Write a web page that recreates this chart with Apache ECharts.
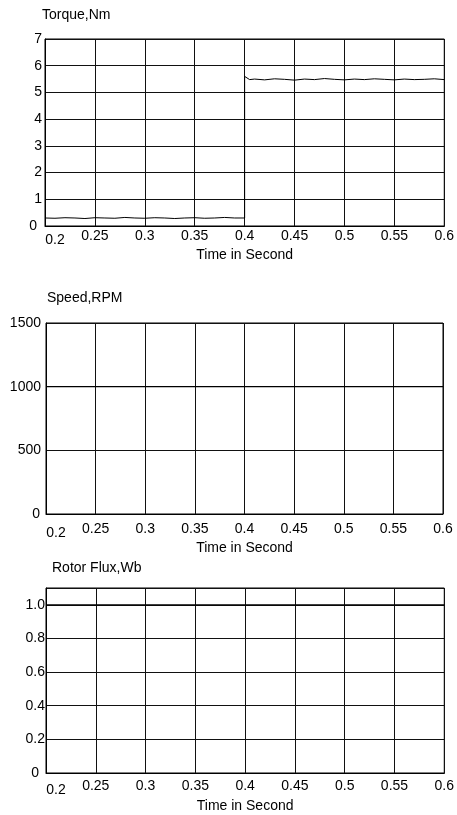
<!DOCTYPE html>
<html>
<head>
<meta charset="utf-8">
<script src="https://cdn.jsdelivr.net/npm/echarts@6/dist/echarts.min.js"></script>
<style>
html,body{margin:0;padding:0;background:#fff;}
#chart{width:457px;height:815px;}
</style>
</head>
<body>
<div id="chart"></div>
<script>
// ---- data ----
var panelTitles = ['Torque,Nm', 'Speed,RPM', 'Rotor Flux,Wb'];
var xAxisTitle = 'Time in Second';
var timeTicks = [0.2, 0.25, 0.3, 0.35, 0.4, 0.45, 0.5, 0.55, 0.6];

var torqueTime = [0.20,0.21,0.22,0.23,0.24,0.25,0.26,0.27,0.28,0.29,0.30,0.31,0.32,0.33,0.34,0.35,0.36,0.37,0.38,0.39,0.40,
                  0.40,0.401,0.405,0.41,0.42,0.43,0.44,0.45,0.46,0.47,0.48,0.49,0.50,0.51,0.52,0.53,0.54,0.55,0.56,0.57,0.58,0.59,0.60];
var torqueValue = [0.30,0.29,0.31,0.30,0.28,0.31,0.30,0.29,0.32,0.30,0.29,0.31,0.30,0.28,0.30,0.31,0.29,0.30,0.32,0.30,0.30,
                   5.60,5.55,5.48,5.50,5.47,5.51,5.49,5.46,5.50,5.48,5.52,5.49,5.47,5.50,5.48,5.51,5.49,5.47,5.50,5.48,5.49,5.51,5.48];

var speedTime = [0.2, 0.3, 0.4, 0.5, 0.6];
var speedValue = [1000, 1000, 1000, 1000, 1000];

var fluxTime = [0.2, 0.3, 0.4, 0.5, 0.6];
var fluxValue = [1.0, 1.0, 1.0, 1.0, 1.0];

var torqueTicks = [0, 1, 2, 3, 4, 5, 6, 7];
var speedTicks = [0, 500, 1000, 1500];
var fluxTicks = [0, 0.2, 0.4, 0.6, 0.8, 1.0];

// ---- chart ----
var FONT = '"Liberation Sans", Arial, sans-serif';
var FS = 14;
var chart = echarts.init(document.getElementById('chart'), null, {renderer: 'canvas'});

function xAx(gridIndex, margin, nameGap) {
  return {
    type: 'value', gridIndex: gridIndex, min: timeTicks[0], max: timeTicks[timeTicks.length - 1], interval: 0.05,
    name: xAxisTitle, nameLocation: 'middle', nameGap: nameGap,
    nameTextStyle: {color: '#000', fontSize: FS, fontFamily: FONT},
    axisLine: {show: true, onZero: false, lineStyle: {color: '#000', width: 1}},
    axisTick: {show: false},
    splitLine: {show: true, lineStyle: {color: '#111', width: 1}},
    axisLabel: {
      color: '#000', fontSize: FS, fontFamily: FONT, margin: margin,
      showMinLabel: true, showMaxLabel: true,
      formatter: function (v) {
        var s = String(+v.toFixed(2));
        return Math.abs(v - 0.2) < 1e-9 ? '{lo|' + s + '}' : s;
      },
      rich: {lo: {padding: [4, 0, 0, 20], fontSize: FS, fontFamily: FONT, color: '#000'}}
    }
  };
}
function yAx(gridIndex, min, max, interval, margin, zeroPad, fmt) {
  return {
    type: 'value', gridIndex: gridIndex, min: min, max: max, interval: interval,
    axisLine: {show: true, lineStyle: {color: '#000', width: 1}},
    axisTick: {show: false},
    splitLine: {show: true, lineStyle: {color: '#111', width: 1}},
    axisLabel: {
      color: '#000', fontSize: FS, fontFamily: FONT, margin: margin,
      formatter: function (v) { var s = fmt(v); return v === 0 ? '{z|' + s + '}' : s; },
      rich: {z: {padding: [0, zeroPad, 0, 0], fontSize: FS, fontFamily: FONT, color: '#000'}}
    }
  };
}

var titleStyle = {fontSize: FS, fontWeight: 'normal', color: '#000', fontFamily: FONT};
var option = {
  backgroundColor: '#fff',
  animation: false,
  title: [
    {text: panelTitles[0], left: 42, top: 8, padding: 0, textStyle: titleStyle},
    {text: panelTitles[1], left: 47, top: 291, padding: 0, textStyle: titleStyle},
    {text: panelTitles[2], left: 52, top: 561, padding: 0, textStyle: titleStyle}
  ],
  grid: [
    {left: 45, right: 12, top: 39, height: 187, show: true, borderColor: '#000', borderWidth: 1, backgroundColor: 'transparent'},
    {left: 46, right: 14, top: 323, height: 191, show: true, borderColor: '#000', borderWidth: 1, backgroundColor: 'transparent'},
    {left: 46, right: 12, top: 588, height: 185, show: true, borderColor: '#000', borderWidth: 1, backgroundColor: 'transparent'}
  ],
  xAxis: [xAx(0, 3, 22), xAx(1, 8, 27), xAx(2, 6, 26)],
  yAxis: [
    yAx(0, torqueTicks[0], torqueTicks[torqueTicks.length - 1], 1, 3, 5, function (v) { return String(v); }),
    yAx(1, speedTicks[0], speedTicks[speedTicks.length - 1], 500, 5, 1, function (v) { return String(v); }),
    yAx(2, fluxTicks[0], 1.1, 0.2, 1, 6, function (v) {
      if (v > 1.05) return '';
      return v === 0 ? '0' : v.toFixed(1);
    })
  ],
  series: [
    {type: 'line', xAxisIndex: 0, yAxisIndex: 0, showSymbol: false, symbol: 'none',
     lineStyle: {color: '#000', width: 1}, data: torqueTime.map(function (t, i) { return [t, torqueValue[i]]; })},
    {type: 'line', xAxisIndex: 1, yAxisIndex: 1, showSymbol: false, symbol: 'none',
     lineStyle: {color: '#000', width: 1.2}, data: speedTime.map(function (t, i) { return [t, speedValue[i]]; })},
    {type: 'line', xAxisIndex: 2, yAxisIndex: 2, showSymbol: false, symbol: 'none',
     lineStyle: {color: '#000', width: 1.2}, data: fluxTime.map(function (t, i) { return [t, fluxValue[i]]; })}
  ]
};
chart.setOption(option);
</script>
</body>
</html>
